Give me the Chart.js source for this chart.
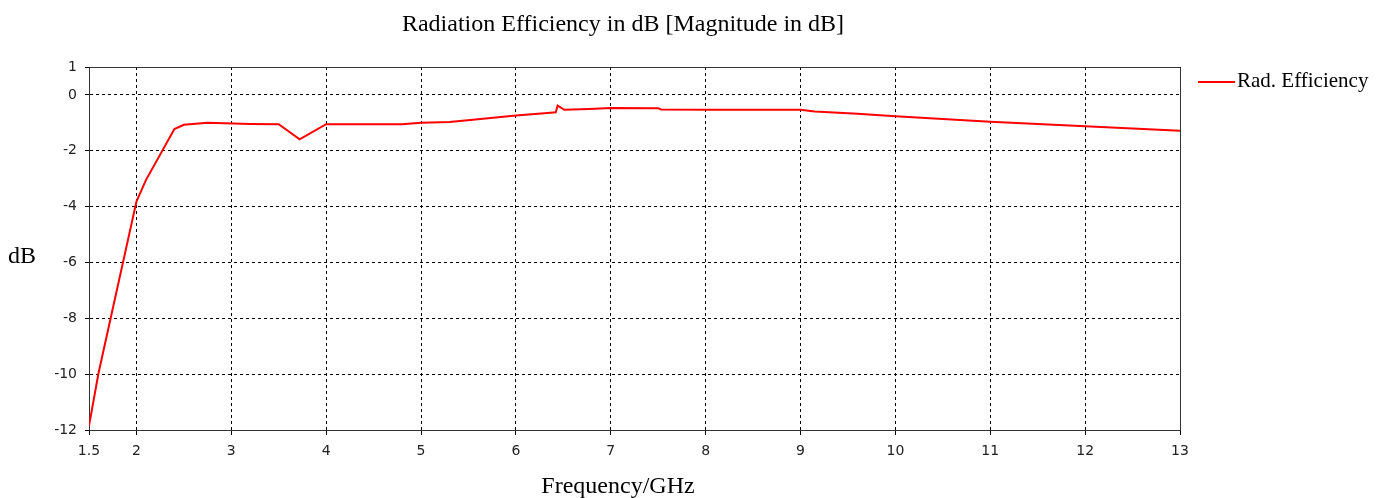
<!DOCTYPE html>
<html><head><meta charset="utf-8">
<script src="https://cdn.jsdelivr.net/npm/chart.js@4/dist/chart.umd.min.js"></script>
<style>html,body{margin:0;padding:0;background:#fff;overflow:hidden}#wrap{position:relative;width:1389px;height:498px}</style>
</head><body><div id="wrap"><canvas id="c" width="1389" height="498"></canvas></div>
<script>
const freqGHz = [1.5, 1.6, 2.0, 2.1, 2.4, 2.5, 2.75, 3.2, 3.5, 3.72, 4.0, 4.8, 5.0, 5.3, 5.6, 6.0, 6.3, 6.42, 6.44, 6.51, 6.77, 7.0, 7.5, 7.53, 8.0, 9.0, 9.15, 9.6, 10.0, 10.5, 11.0, 11.5, 12.0, 12.5, 13.0];
const radEffDb = [-11.85, -9.97, -3.82, -3.05, -1.22, -1.07, -1.0, -1.04, -1.05, -1.59, -1.05, -1.05, -1.0, -0.97, -0.87, -0.74, -0.66, -0.62, -0.38, -0.53, -0.50, -0.47, -0.48, -0.52, -0.53, -0.53, -0.59, -0.67, -0.76, -0.86, -0.96, -1.04, -1.12, -1.2, -1.28];
const xTickValues = [1.5, 2, 3, 4, 5, 6, 7, 8, 9, 10, 11, 12, 13];
const yTickValues = [1, 0, -2, -4, -6, -8, -10, -12];
const titleText = 'Radiation Efficiency in dB [Magnitude in dB]';
const xAxisTitle = 'Frequency/GHz';
const yAxisTitle = 'dB';
const seriesName = 'Rad. Efficiency';

const lineColor = '#ff0000';
const frameColor = '#333333';
const tickFont = {family: '"DejaVu Sans"', size: 14};

const textPlugin = {
  id: 'texts',
  afterDraw(chart) {
    const ctx = chart.ctx;
    const a = chart.chartArea;
    ctx.save();
    ctx.strokeStyle = frameColor;
    ctx.lineWidth = 1;
    ctx.beginPath();
    ctx.moveTo(Math.round(a.left) + 0.5, Math.round(a.top) + 0.5);
    ctx.lineTo(Math.round(a.right) + 0.5, Math.round(a.top) + 0.5);
    ctx.lineTo(Math.round(a.right) + 0.5, Math.round(a.bottom) + 0.5);
    ctx.stroke();
    ctx.fillStyle = '#000';
    ctx.textBaseline = 'alphabetic';
    ctx.font = '24px "Liberation Serif"';
    ctx.textAlign = 'center';
    ctx.fillText(titleText, 623, 31);
    ctx.fillText(xAxisTitle, 618, 493);
    ctx.textAlign = 'left';
    ctx.fillText(yAxisTitle, 8, 263);
    ctx.strokeStyle = lineColor;
    ctx.lineWidth = 2;
    ctx.beginPath();
    ctx.moveTo(1198, 82);
    ctx.lineTo(1235, 82);
    ctx.stroke();
    ctx.font = '21px "Liberation Serif"';
    ctx.fillText(seriesName, 1237, 87);
    ctx.restore();
  }
};

new Chart(document.getElementById('c'), {
  type: 'line',
  data: {
    datasets: [{
      label: seriesName,
      data: freqGHz.map((f, i) => ({x: f, y: radEffDb[i]})),
      borderColor: lineColor,
      backgroundColor: lineColor,
      borderWidth: 2,
      pointRadius: 0,
      tension: 0,
      fill: false
    }]
  },
  options: {
    responsive: false,
    animation: false,
    devicePixelRatio: 1,
    layout: {padding: {top: 67, right: 209, left: 0, bottom: 0}},
    plugins: {legend: {display: false}, title: {display: false}, tooltip: {enabled: false}},
    scales: {
      x: {
        type: 'linear',
        min: 1.5, max: 13,
        afterFit(s) { s.height = 68; },
        afterBuildTicks(s) { s.ticks = xTickValues.map(v => ({value: v})); },
        ticks: {callback: v => String(v), font: tickFont, color: '#222', padding: 8, maxRotation: 0, autoSkip: false},
        grid: {color: '#000', lineWidth: 1, tickLength: 5, tickColor: '#000'},
        border: {display: true, color: frameColor, width: 1, dash: [3, 3]}
      },
      y: {
        type: 'linear',
        min: -12, max: 1,
        afterFit(s) { s.width = 89; },
        afterBuildTicks(s) { s.ticks = yTickValues.map(v => ({value: v})); },
        ticks: {callback: v => String(v), font: tickFont, color: '#222', padding: 8, autoSkip: false},
        grid: {color: '#000', lineWidth: 1, tickLength: 4, tickColor: '#000'},
        border: {display: true, color: frameColor, width: 1, dash: [3, 3]}
      }
    }
  },
  plugins: [textPlugin]
});
</script></body></html>
